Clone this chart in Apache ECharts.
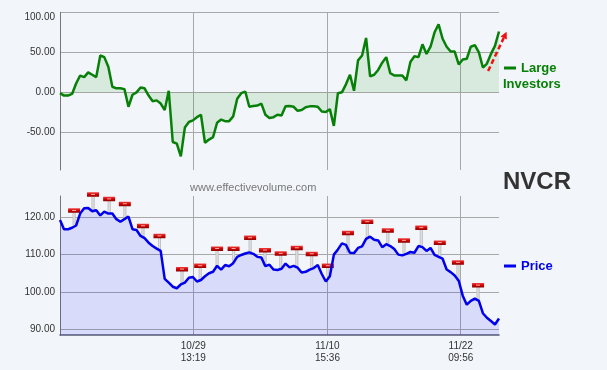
<!DOCTYPE html>
<html><head><meta charset="utf-8">
<script src="https://cdn.jsdelivr.net/npm/echarts@6/dist/echarts.min.js"></script>
<style>html,body{margin:0;padding:0;background:#f2f5f9;}#c{width:607px;height:370px;}</style>
</head><body><div id="c"></div>
<script>
// ---- data ----
const investors = [-1,-4,-4,-2,11,21,19,25,22,19,46,44,32,7,5,5,4,-18,-3,0,
6,5,-4,-11,-10,-14,-22,2,-62,-64,-80,-44,-37,-35,-31,-28,-63,-59,-56,-38,
-34,-36,-36,-30,-8,-1,1,-18,-17,-16.5,-14,-28,-32,-31,-28,-29,-17.5,-17,-18,-23,
-22,-18.5,-17.5,-17.5,-18,-24,-24.5,-21,-42,-1,0,10,22,2,40,46,68,20,22,28,
37,44,24,21,21,21,15,38,45,44,60,48,57,75,85,67,57,51,51,35,
41,42,57,59,50,31,36,48,58,76];
const price = [119.3,116.8,116.8,117.2,117.8,121,122.4,122.5,121.6,121.9,120.5,121.5,121,121,119.5,118.8,119.5,120.2,116.8,116.6,
115,114.4,113.2,112.3,111.6,111,103.5,102.5,101.4,101,102,102.5,103.8,104,102.8,103.2,104.2,105,105.4,107,
106,107.2,106.9,107.7,109.4,109.9,110.3,110.6,110.2,109.4,109.2,106.9,107.3,106,105.9,106.2,107.6,106.6,107,106.5,
105.2,105.4,106,106.4,107.2,104.8,102.8,104.2,110,111.4,113,112.6,110.5,110.4,111.8,112.2,114.2,114.8,114,113.8,
112,112.8,112.3,111.5,110,109.8,110.2,110.7,110.5,112.3,112,111,111.8,109.9,109.4,108.9,106,105.3,104.4,103,
99,96.6,97.6,98.2,97.6,94.3,93.1,92.2,91.3,92.9];
const signalIdx = [3.5,8.2,12.2,16.1,20.6,24.7,30.3,34.8,39.0,43.1,47.2,50.9,54.8,58.8,62.5,66.5,71.5,76.3,81.4,85.4,89.7,94.3,98.8,103.8];
const signalLevel = [121.8,126.1,124.9,123.6,117.7,115.0,106.1,107.0,111.6,111.6,114.5,111.2,110.3,111.8,110.2,107.0,115.8,118.8,116.5,113.8,117.2,113.2,107.9,101.8];
const xTickIdx = [33.1, 66.4, 99.5];
const xTickLabels = ['10/29\n13:19', '11/10\n15:36', '11/22\n09:56'];
const invTicks = [-50, 0, 50, 100];
const priceTicks = [90, 100, 110, 120];
const arrowFrom = [106.3, 26.6];
const arrowTo = [110.9, 75.8];

const FONT = 'Liberation Sans, Arial, sans-serif';
const GRID = '#a8a8a8';
const chart = echarts.init(document.getElementById('c'), null, {renderer: 'canvas'});
const xLabelFmt = v => { const k = xTickIdx.indexOf(v); return k >= 0 ? xTickLabels[k] : ''; };

const option = {
  backgroundColor: '#f2f5f9',
  animation: false,
  grid: [
    {left: 60, top: 12.3, width: 439, height: 157.7, outerBoundsMode: 'none', containLabel: false},
    {left: 60, top: 196, width: 439, height: 139, outerBoundsMode: 'none', containLabel: false}
  ],
  xAxis: [
    {type: 'value', gridIndex: 0, min: 0, max: investors.length - 1,
     axisLine: {show: false}, axisTick: {show: false, customValues: xTickIdx},
     axisLabel: {show: false, customValues: xTickIdx},
     splitLine: {show: true, lineStyle: {color: GRID, width: 1}}},
    {type: 'value', gridIndex: 1, min: 0, max: price.length - 1,
     axisLine: {show: true, onZero: false, lineStyle: {color: '#5a5a72', width: 1.5}},
     axisTick: {show: false, customValues: xTickIdx},
     axisLabel: {show: true, customValues: xTickIdx, formatter: xLabelFmt, color: '#333', fontSize: 10, fontFamily: FONT, lineHeight: 12, margin: 5},
     splitLine: {show: true, lineStyle: {color: GRID, width: 1}}}
  ],
  yAxis: [
    {type: 'value', gridIndex: 0, min: -97, max: 100,
     axisLine: {show: true, lineStyle: {color: '#777', width: 1}},
     axisTick: {show: false, customValues: invTicks},
     axisLabel: {customValues: invTicks, formatter: v => v.toFixed(2), color: '#333', fontSize: 10, fontFamily: FONT, margin: 5, verticalAlignMaxLabel: 'top'},
     splitLine: {show: true, lineStyle: {color: GRID, width: 1}}},
    {type: 'value', gridIndex: 1, min: 88.47, max: 125.7,
     axisLine: {show: true, lineStyle: {color: '#777', width: 1}},
     axisTick: {show: false, customValues: priceTicks},
     axisLabel: {customValues: priceTicks, formatter: v => v.toFixed(2), color: '#333', fontSize: 10, fontFamily: FONT, margin: 5},
     splitLine: {show: true, lineStyle: {color: GRID, width: 1}}}
  ],
  series: [
    {type: 'line', name: 'Large Investors', xAxisIndex: 0, yAxisIndex: 0,
     data: investors.map((v, i) => [i, v]), showSymbol: false, z: 3,
     lineStyle: {color: '#078007', width: 2.5}, itemStyle: {color: '#078007'},
     areaStyle: {color: 'rgba(0,128,0,0.15)', origin: 0}},
    {type: 'line', name: 'Price', xAxisIndex: 1, yAxisIndex: 1,
     data: price.map((v, i) => [i, v]), showSymbol: false, z: 3,
     lineStyle: {color: '#0000ee', width: 2.5}, itemStyle: {color: '#0000ee'},
     areaStyle: {color: 'rgba(0,0,255,0.15)', origin: 'start'}},
    {type: 'custom', name: 'signals', xAxisIndex: 1, yAxisIndex: 1, clip: false, z: 2,
     data: signalIdx.map((x, k) => [x, signalLevel[k], price[Math.round(x)]]),
     renderItem: function (params, api) {
       const top = api.coord([api.value(0), api.value(1)]);
       const bot = api.coord([api.value(0), api.value(2)]);
       return {type: 'group', children: [
         {type: 'rect', shape: {x: top[0] - 1.5, y: top[1], width: 3, height: Math.max(0, bot[1] - top[1])},
          style: {fill: new echarts.graphic.LinearGradient(0, 0, 1, 0, [{offset: 0, color: '#b8b8b8'}, {offset: 0.5, color: '#e6e6e6'}, {offset: 1, color: '#b0b0b0'}])}},
         {type: 'rect', shape: {x: top[0] - 6, y: top[1] - 2.2, width: 12, height: 4.5},
          style: {fill: new echarts.graphic.LinearGradient(0, 0, 0, 1, [{offset: 0, color: '#f04040'}, {offset: 0.5, color: '#d00000'}, {offset: 1, color: '#8a0000'}])}},
         {type: 'rect', shape: {x: top[0] - 2, y: top[1] - 0.6, width: 4, height: 1},
          style: {fill: 'rgba(255,190,190,0.9)'}}
       ]};
     }}
  ],
  graphic: [
    {type: 'rect', left: 504, top: 66.5, shape: {width: 12, height: 3}, style: {fill: '#078007'}},
    {type: 'text', x: 521, y: 68, style: {text: 'Large', fill: '#078007', font: 'bold 13px ' + FONT, verticalAlign: 'middle'}},
    {type: 'text', x: 503, y: 84, style: {text: 'Investors', fill: '#078007', font: 'bold 13px ' + FONT, verticalAlign: 'middle'}},
    {type: 'rect', left: 504, top: 264.5, shape: {width: 12, height: 3}, style: {fill: '#0000ee'}},
    {type: 'text', x: 521, y: 266, style: {text: 'Price', fill: '#0000ee', font: 'bold 13px ' + FONT, verticalAlign: 'middle'}},
    {type: 'text', x: 503, y: 182, style: {text: 'NVCR', fill: '#333', font: 'bold 24px ' + FONT, verticalAlign: 'middle'}},
    {type: 'text', x: 190, y: 188, style: {text: 'www.effectivevolume.com', fill: '#777', font: '11px ' + FONT, verticalAlign: 'middle'}}
  ]
};
chart.setOption(option);

// dashed red arrow annotation, placed via data coordinates
const p0 = chart.convertToPixel({gridIndex: 0}, arrowFrom);
const p1 = chart.convertToPixel({gridIndex: 0}, arrowTo);
const dx = p1[0] - p0[0], dy = p1[1] - p0[1];
const L = Math.sqrt(dx * dx + dy * dy), ux = dx / L, uy = dy / L;
const hl = 7, hw = 3.5;
const bx = p1[0] - ux * hl, by = p1[1] - uy * hl;
chart.setOption({graphic: option.graphic.concat([
  {type: 'line', shape: {x1: p0[0], y1: p0[1], x2: bx, y2: by}, style: {stroke: '#ee1111', lineWidth: 2.5, lineDash: [5, 3]}, z: 10},
  {type: 'polygon', shape: {points: [[p1[0], p1[1]], [bx - uy * hw, by + ux * hw], [bx + uy * hw, by - ux * hw]]}, style: {fill: '#ee1111'}, z: 10}
])});
</script></body></html>
